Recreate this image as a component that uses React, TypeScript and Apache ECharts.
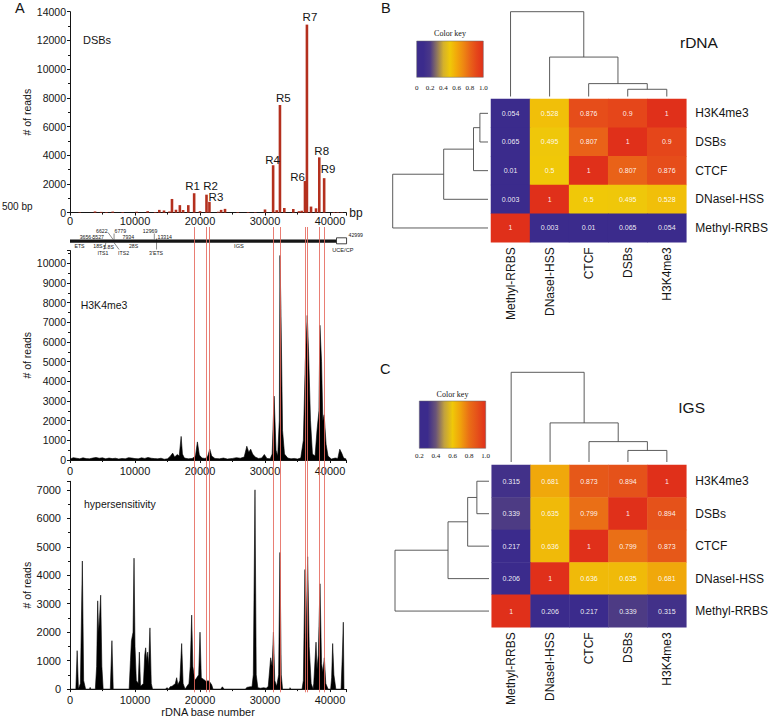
import React, { useEffect, useRef } from "react";
import * as echarts from "echarts";

// ---------------- data ----------------
const rPeakNames = ["R1", "R2", "R3", "R4", "R5", "R6", "R7", "R8", "R9"];
const rPeakBp = [19100, 21000, 21450, 31250, 32300, 36150, 36450, 38350, 39100];
const rPeakReads = [1350, 1250, 750, 3300, 7500, 2200, 13100, 3850, 2400];

const dsbBackground: number[][] = [
  [1500, 30], [3850, 80], [4800, 50], [5600, 40], [6570, 70], [8100, 40], [10260, 60],
  [11950, 100], [13100, 40], [13740, 190], [14460, 150], [15300, 80], [15690, 950],
  [16300, 200], [16900, 520], [17400, 180], [18200, 520], [20000, 100], [22800, 60],
  [23250, 190], [23850, 260], [25800, 40], [27400, 40], [28500, 50], [30000, 220],
  [31800, 170], [32970, 320], [34350, 250], [35230, 100], [35640, 130], [37080, 420],
  [37850, 300], [40600, 40], [41200, 40], [41800, 30],
];

const h3k4me3Profile: number[][] = [
  [0, 50], [500, 120], [1000, 90], [1500, 60], [2000, 110], [2500, 70], [3000, 60], [3500, 100],
  [4000, 130], [4500, 90], [5000, 110], [5500, 60], [6000, 100], [6500, 70], [7000, 90], [7500, 50],
  [8000, 80], [8500, 60], [9000, 120], [9500, 100], [10000, 70], [10500, 60], [11000, 110],
  [11500, 80], [12000, 130], [12500, 90], [13000, 70], [13500, 60], [14000, 90], [14500, 40],
  [15000, 60], [15400, 180], [15800, 350], [16100, 150], [16500, 280], [16800, 200], [17100, 1200],
  [17300, 300], [17600, 100], [18200, 60], [18800, 80], [19300, 200], [19600, 920], [19900, 250],
  [20300, 100], [20800, 80], [21200, 200], [21500, 560], [21800, 200], [22300, 80], [23000, 60],
  [23600, 100], [24200, 50], [25000, 80], [25600, 120], [26200, 90], [26800, 150], [27200, 700],
  [27500, 400], [27800, 550], [28100, 300], [28500, 150], [29000, 80], [29500, 100], [29900, 280],
  [30300, 80], [30800, 60], [31100, 300], [31400, 3250], [31700, 500], [31950, 200], [32200, 2000],
  [32300, 10400], [32450, 7700], [32700, 1500], [33000, 300], [33500, 100], [34000, 60],
  [34500, 80], [35000, 50], [35500, 100], [35900, 1000], [36200, 5000], [36500, 7350],
  [36700, 5500], [37000, 2000], [37300, 300], [37700, 200], [38000, 1500], [38300, 2500],
  [38450, 6850], [38700, 5000], [38900, 2000], [39100, 2300], [39400, 800], [39700, 200],
  [40200, 50], [40800, 100], [41200, 80], [41500, 550], [41800, 350], [42100, 100], [42500, 50],
];

const hypersensitivityProfile: number[][] = [
  [0, 0], [900, 0], [1100, 1350], [1300, 0], [1600, 200], [1900, 4500], [2100, 300], [2400, 0],
  [3000, 0], [3100, 60], [3200, 0], [3900, 0], [4100, 800], [4260, 3100], [4400, 2000],
  [4550, 2500], [4720, 3300], [4900, 800], [5100, 0], [6200, 0], [6450, 1700], [6650, 0],
  [9100, 0], [9300, 1000], [9450, 1700], [9700, 2000], [9850, 4600], [10000, 1500], [10200, 300],
  [10500, 200], [10670, 1300], [10850, 100], [11300, 200], [11500, 1200], [11640, 1450],
  [11800, 1000], [11950, 1300], [12100, 800], [12300, 2150], [12500, 200], [12700, 0],
  [14700, 0], [14900, 50], [15200, 0], [15400, 80], [15700, 100], [16000, 150], [16200, 200],
  [16410, 400], [16600, 150], [16900, 300], [17180, 1600], [17400, 200], [17700, 0], [18300, 200],
  [18500, 800], [18720, 2600], [18900, 800], [19200, 300], [19500, 400], [19800, 500],
  [20000, 2000], [20200, 400], [20500, 350], [20800, 300], [21000, 250], [21200, 300],
  [21500, 250], [21800, 150], [22000, 0], [23200, 0], [23440, 80], [23700, 0], [27000, 0],
  [27200, 60], [27700, 80], [28000, 80], [28200, 500], [28460, 7000], [28650, 500], [28900, 50],
  [29300, 30], [29800, 50], [30200, 30], [30500, 100], [30870, 1100], [31100, 800], [31300, 2000],
  [31500, 300], [31800, 100], [32100, 500], [32300, 4800], [32500, 500], [32700, 0], [33800, 0],
  [33850, 50], [33950, 0], [35700, 0], [35900, 300], [36150, 4200], [36300, 1500], [36560, 4650],
  [36800, 1500], [37100, 200], [37400, 0], [37500, 200], [37850, 1650], [38000, 700], [38200, 1200],
  [38460, 3700], [38700, 900], [38900, 600], [39130, 1100], [39350, 200], [39700, 0], [40100, 0],
  [40250, 400], [40410, 1600], [40600, 500], [40900, 0], [41700, 0], [41900, 1200], [42050, 2350],
  [42150, 0],
];

const schematicBoundaries = [3656, 5527, 6622, 6779, 7934, 12969, 13314];
const schematicEnd = 42999;
const uceCpRange = [41000, 42550];

const featureRows = ["H3K4me3", "DSBs", "CTCF", "DNaseI-HSS", "Methyl-RRBS"]; // top -> bottom
const featureCols = ["Methyl-RRBS", "DNaseI-HSS", "CTCF", "DSBs", "H3K4me3"]; // left -> right
const rdnaCorrelation = [
  [0.054, 0.528, 0.876, 0.9, 1],
  [0.065, 0.495, 0.807, 1, 0.9],
  [0.01, 0.5, 1, 0.807, 0.876],
  [0.003, 1, 0.5, 0.495, 0.528],
  [1, 0.003, 0.01, 0.065, 0.054],
];
const igsCorrelation = [
  [0.315, 0.681, 0.873, 0.894, 1],
  [0.339, 0.635, 0.799, 1, 0.894],
  [0.217, 0.636, 1, 0.799, 0.873],
  [0.206, 1, 0.636, 0.635, 0.681],
  [1, 0.206, 0.217, 0.339, 0.315],
];
// merges: [childA, childB, height]; leaves 0..4 follow featureCols order
const rdnaTree = [[3, 4, 0.085], [2, 5, 0.152], [1, 6, 0.465], [0, 7, 1]];
const igsTree = [[3, 4, 0.129], [2, 5, 0.227], [1, 6, 0.436], [0, 7, 1]];

const keyTicksRdna = ["0", "0.2", "0.4", "0.6", "0.8", "1.0"];
const keyTicksIgs = ["0.2", "0.4", "0.6", "0.8", "1.0"];
const rdnaColors = ["#3b2b8c", "#3b2b8c", "#4a3888", "#8c7460", "#d4b02c", "#f0c808", "#f2a80a", "#ee8812", "#e96418", "#e5461a", "#e0301a"];
const igsColors = ["#3b2b8c", "#3b2b8c", "#6a5478", "#c0a040", "#f0c808", "#f0a00c", "#ea6e16", "#e5501a", "#e0301a"];

// ---------------- styling ----------------
const SANS = '"Liberation Sans", Arial, Helvetica, sans-serif';
const SERIF = '"Liberation Serif", "Times New Roman", serif';
const INK = "#151515";
const RED_LINE = "#e5675c";
const BAR_RED = "#b4301e";

const rLabelLayout = [
  { d: 1.5, o: [-1.5, 0] }, { d: 3, o: [4, 0] }, { d: 0, o: [6.5, 1] }, { d: 0, o: [-0.5, 1] },
  { d: 1, o: [3.3, 0] }, { d: 0, o: [-7.5, 2] }, { d: 2, o: [3, 0] }, { d: 0, o: [2.4, 0] },
  { d: 3, o: [4, 0] },
];

function txt(text: string, x: number, y: number, size: number, extra: any = {}) {
  const align = extra.align || "left";
  return {
    type: "text",
    x,
    y,
    silent: true,
    style: {
      text,
      fill: extra.fill || INK,
      fontSize: size,
      fontFamily: extra.font || SANS,
      align,
      textAlign: align,
      verticalAlign: "middle",
      textVerticalAlign: "middle",
    },
  };
}

const X_MAX = 42500;
const PLOT_W = 276.25;

function bpAxisX(gridIndex: number, extra: any = {}, margin = 5) {
  return {
    type: "value",
    gridIndex,
    min: 0,
    max: X_MAX,
    interval: 10000,
    axisLine: { show: true, onZero: false, lineStyle: { color: INK, width: 1 } },
    axisTick: { show: true, length: 3, lineStyle: { color: INK } },
    minorTick: { show: true, splitNumber: 2, length: 2, lineStyle: { color: INK } },
    splitLine: { show: false },
    axisLabel: {
      fontSize: 11,
      color: INK,
      fontFamily: SANS,
      margin,
      formatter: (v: number) => (v % 10000 === 0 ? String(v) : ""),
    },
    ...extra,
  };
}

function readsAxisY(gridIndex: number, max: number, interval: number, nameGap: number, labelSize: number, margin: number) {
  return {
    type: "value",
    gridIndex,
    min: 0,
    max,
    interval,
    name: "# of reads",
    nameLocation: "middle",
    nameGap,
    nameTextStyle: { fontSize: 10.5, color: INK, fontFamily: SANS },
    axisLine: { show: true, lineStyle: { color: INK, width: 1 } },
    axisTick: { show: true, length: 3, lineStyle: { color: INK } },
    minorTick: { show: true, splitNumber: 2, length: 2, lineStyle: { color: INK } },
    splitLine: { show: false },
    axisLabel: {
      fontSize: labelSize,
      color: INK,
      fontFamily: SANS,
      margin,
      formatter: (v: number) => (v % interval === 0 ? String(v) : ""),
    },
  };
}

function heatData(matrix: number[][]) {
  const out: number[][] = [];
  matrix.forEach((row, r) => {
    row.forEach((v, c) => {
      out.push([c, featureRows.length - 1 - r, v]);
    });
  });
  return out;
}

function dendroRender(tree: number[][], colScale: number, colGap: number, rowScale: number, rowGap: number) {
  return (params: any) => {
    const cs = params.coordSys;
    const n = featureCols.length;
    const cw = cs.width / n;
    const rh = cs.height / n;
    const pos: number[] = featureCols.map((_, i) => i);
    const hgt: number[] = featureCols.map(() => 0);
    const children: any[] = [];
    const st = { stroke: "#4a4a4a", lineWidth: 0.9, fill: "none" };
    const cx = (p: number) => cs.x + (p + 0.5) * cw;
    const cy = (h: number) => cs.y - colGap - h * colScale;
    const ry = (p: number) => cs.y + cs.height - (p + 0.5) * rh;
    const rx = (h: number) => cs.x - rowGap - h * rowScale;
    tree.forEach(([a, b, h]) => {
      children.push({
        type: "polyline",
        shape: { points: [[cx(pos[a]), cy(hgt[a])], [cx(pos[a]), cy(h)], [cx(pos[b]), cy(h)], [cx(pos[b]), cy(hgt[b])]] },
        style: st,
      });
      children.push({
        type: "polyline",
        shape: { points: [[rx(hgt[a]), ry(pos[a])], [rx(h), ry(pos[a])], [rx(h), ry(pos[b])], [rx(hgt[b]), ry(pos[b])]] },
        style: st,
      });
      pos.push((pos[a] + pos[b]) / 2);
      hgt.push(h);
    });
    return { type: "group", children };
  };
}

function schematicRender(params: any, api: any) {
  const X = (bp: number) => api.coord([bp, 0])[0];
  const [b1, b2, b3, b4, b5, b6, b7] = schematicBoundaries;
  const ln = (x1: number, y1: number, x2: number, y2: number) => ({
    type: "line",
    shape: { x1, y1, x2, y2 },
    style: { stroke: INK, lineWidth: 0.5 },
  });
  const s = 5.2;
  const upY = 230.8;
  const loY = 236.9;
  const children: any[] = [
    { type: "rect", shape: { x: X(0), y: 239.4, width: X(uceCpRange[0]) - X(0), height: 3.3 }, style: { fill: INK } },
    {
      type: "rect",
      shape: { x: X(uceCpRange[0]), y: 237.8, width: X(uceCpRange[1]) - X(uceCpRange[0]), height: 6 },
      style: { fill: "#fff", stroke: INK, lineWidth: 0.8 },
    },
    txt(String(b1), X(b1) - 2.5, loY, s, { align: "right" }),
    txt(String(b2), X(b2) - 2, loY, s, { align: "right" }),
    txt(String(b3), X(b3) - 5.5, upY, s, { align: "right" }),
    txt(String(b4), X(b4) + 0.5, upY, s),
    txt(String(b5), X(b5) + 1, loY, s),
    txt(String(b6), X(b6) + 3, upY, s, { align: "right" }),
    txt(String(b7), X(b7) + 1, loY, s),
    txt(String(schematicEnd), X(schematicEnd) - 1, 234.5, s),
    ln(X(b1) - 2, 237, X(b1), 239.4),
    ln(X(b3) - 5, 232.5, X(b3), 239.4),
    ln(X(b4), 233.5, X(b4), 239.4),
    ln(X(b6), 233.5, X(b6), 239.4),
    ln(X(b7), 238.5, X(b7), 249.5),
    ln(X(b2), 242.7, X(b2) - 2, 249.5),
    ln(X(b4), 242.7, X(b4) + 5, 249.5),
    txt("ETS", X(0) + 9.5, 246.3, s, { align: "center" }),
    txt("18S", X(b1) + 4.2, 246.3, s, { align: "center" }),
    txt("5.8S", X(b3) - 4.5, 246.5, s, { align: "center" }),
    txt("ITS1", X(b2) - 3, 252.8, s, { align: "center" }),
    txt("ITS2", X(b4) + 9.5, 252.8, s, { align: "center" }),
    txt("28S", X(b5) + 12, 246.3, s, { align: "center" }),
    txt("3'ETS", X(b7) - 0.5, 252.8, s, { align: "center" }),
    txt("IGS", (X(b7) + X(uceCpRange[0])) / 2 - 7.5, 246.3, s + 0.5, { align: "center" }),
    txt("UCE/CP", (X(uceCpRange[0]) + X(uceCpRange[1])) / 2 + 1.3, 249.5, s + 0.4, { align: "center" }),
  ];
  return { type: "group", children };
}

function colorKey(x: number, y: number, w: number, h: number, colors: string[], ticks: string[], titleY: number, tickY: number) {
  const stops = colors.map((c, i) => ({ offset: i / (colors.length - 1), color: c }));
  const els: any[] = [
    {
      type: "rect",
      silent: true,
      shape: { x, y, width: w, height: h },
      style: { fill: new echarts.graphic.LinearGradient(0, 0, 1, 0, stops), stroke: "#666", lineWidth: 0.5 },
    },
    txt("Color key", x + w / 2, titleY, 8, { align: "center", font: SERIF }),
  ];
  ticks.forEach((t, i) => {
    els.push(txt(t, x + (i * w) / (ticks.length - 1), tickY, 7, { align: "center", font: SERIF }));
  });
  return els;
}

function heatAxes(gridIndex: number) {
  return {
    x: {
      type: "category",
      gridIndex,
      data: featureCols,
      axisLine: { show: false },
      axisTick: { show: false },
      splitLine: { show: false },
      axisLabel: { rotate: 90, fontSize: 12, color: INK, fontFamily: SANS, margin: 5, interval: 0 },
    },
    y: {
      type: "category",
      gridIndex,
      position: "right",
      data: [...featureRows].reverse(),
      axisLine: { show: false },
      axisTick: { show: false },
      splitLine: { show: false },
      axisLabel: { fontSize: 12, color: INK, fontFamily: SANS, margin: 9, interval: 0 },
    },
  };
}

function buildOption() {
  const dsbData: any[] = [
    ...dsbBackground.map((d) => [d[0], d[1]]),
    ...rPeakBp.map((bp, i) => ({
      value: [bp, rPeakReads[i]],
      label: {
        show: true,
        position: "top",
        formatter: rPeakNames[i],
        distance: rLabelLayout[i].d,
        offset: rLabelLayout[i].o,
        fontSize: 11.5,
        color: INK,
        fontFamily: SANS,
      },
    })),
  ];

  const hB = heatAxes(4);
  const hC = heatAxes(5);

  const heatLabel = {
    show: true,
    color: "rgba(255,255,255,0.92)",
    fontSize: 7,
    fontFamily: SANS,
    formatter: (p: any) => String(p.value[2]),
  };

  return {
    animation: false,
    backgroundColor: "#fff",
    grid: [
      { left: 70, top: 11.7, width: PLOT_W, height: 200.9 },
      { left: 70, top: 250.55, width: PLOT_W, height: 209.45 },
      { left: 70, top: 481.3, width: PLOT_W, height: 211 },
      { left: 70, top: 227, width: PLOT_W, height: 465.3 },
      { left: 491, top: 99, width: 199, height: 143.3 },
      { left: 491.7, top: 465, width: 198.3, height: 162.3 },
    ],
    xAxis: [
      bpAxisX(
        0,
        {
          name: "bp",
          nameLocation: "end",
          nameGap: 3,
          nameTextStyle: { fontSize: 12, color: INK, fontFamily: SANS, verticalAlign: "middle" },
        },
        3
      ),
      bpAxisX(1),
      bpAxisX(2, {
        name: "rDNA base number",
        nameLocation: "middle",
        nameGap: 15,
        nameTextStyle: { fontSize: 11, color: INK, fontFamily: SANS },
      }),
      { type: "value", gridIndex: 3, min: 0, max: X_MAX, show: false },
      hB.x,
      hC.x,
    ],
    yAxis: [
      readsAxisY(0, 14000, 2000, 35.5, 10.5, 4),
      readsAxisY(1, 10650, 1000, 34, 10.5, 4),
      readsAxisY(2, 7300, 1000, 33.5, 11, 9),
      { type: "value", gridIndex: 3, min: 0, max: 1, show: false },
      hB.y,
      hC.y,
    ],
    visualMap: [
      { type: "continuous", show: false, seriesIndex: 5, dimension: 2, min: 0, max: 1, inRange: { color: rdnaColors } },
      { type: "continuous", show: false, seriesIndex: 6, dimension: 2, min: 0.2, max: 1, inRange: { color: igsColors } },
    ],
    series: [
      {
        type: "bar",
        xAxisIndex: 0,
        yAxisIndex: 0,
        barWidth: 2.6,
        itemStyle: { color: BAR_RED },
        data: dsbData,
        silent: true,
      },
      {
        type: "line",
        xAxisIndex: 1,
        yAxisIndex: 1,
        data: h3k4me3Profile,
        showSymbol: false,
        symbol: "none",
        lineStyle: { color: "#000", width: 0.6 },
        areaStyle: { color: "#000", opacity: 1 },
        silent: true,
      },
      {
        type: "line",
        xAxisIndex: 2,
        yAxisIndex: 2,
        data: hypersensitivityProfile,
        showSymbol: false,
        symbol: "none",
        lineStyle: { color: "#000", width: 0.6 },
        areaStyle: { color: "#000", opacity: 1 },
        silent: true,
      },
      {
        type: "custom",
        xAxisIndex: 3,
        yAxisIndex: 3,
        data: [[0, 0]],
        renderItem: schematicRender,
        clip: false,
        z: 4,
        silent: true,
      },
      {
        type: "line",
        xAxisIndex: 3,
        yAxisIndex: 3,
        data: [[0, 0]],
        showSymbol: false,
        symbol: "none",
        lineStyle: { opacity: 0 },
        z: 6,
        silent: true,
        markLine: {
          silent: true,
          symbol: ["none", "none"],
          label: { show: false },
          lineStyle: { color: RED_LINE, width: 1, type: "solid", opacity: 0.85 },
          data: rPeakBp.map((bp) => ({ xAxis: bp })),
          z: 6,
        },
      },
      {
        type: "heatmap",
        xAxisIndex: 4,
        yAxisIndex: 4,
        data: heatData(rdnaCorrelation),
        label: heatLabel,
        silent: true,
      },
      {
        type: "heatmap",
        xAxisIndex: 5,
        yAxisIndex: 5,
        data: heatData(igsCorrelation),
        label: heatLabel,
        silent: true,
      },
      {
        type: "custom",
        xAxisIndex: 4,
        yAxisIndex: 4,
        data: [[0, 0]],
        renderItem: dendroRender(rdnaTree, 84.8, 2.5, 95.3, 3),
        clip: false,
        silent: true,
      },
      {
        type: "custom",
        xAxisIndex: 5,
        yAxisIndex: 5,
        data: [[0, 0]],
        renderItem: dendroRender(igsTree, 89.7, 3, 94, 2.7),
        clip: false,
        silent: true,
      },
    ],
    graphic: [
      txt("A", 15, 8, 14.5),
      txt("B", 381, 8, 14.5),
      txt("C", 380, 369, 14.5),
      txt("500 bp", 2, 206, 10),
      txt("DSBs", 83, 40, 11),
      txt("H3K4me3", 80.7, 305, 10.5),
      txt("hypersensitivity", 84, 504.3, 10.5),
      txt("rDNA", 680, 42.7, 15.5),
      txt("IGS", 678.3, 407.3, 15.5),
      ...colorKey(416.7, 41, 66.6, 36.3, rdnaColors, keyTicksRdna, 33.3, 87.7),
      ...colorKey(419.3, 401, 66.4, 47.3, igsColors, keyTicksIgs, 394.3, 456),
    ],
  };
}

export default function App() {
  const ref = useRef<HTMLDivElement>(null);
  useEffect(() => {
    if (!ref.current) return;
    const chart = echarts.init(ref.current, null, { renderer: "svg" });
    chart.setOption(buildOption() as any);
    return () => chart.dispose();
  }, []);
  return (
    <div
      ref={ref}
      style={{ position: "absolute", left: 0, top: 0, width: 771, height: 718, background: "#fff" }}
    />
  );
}
